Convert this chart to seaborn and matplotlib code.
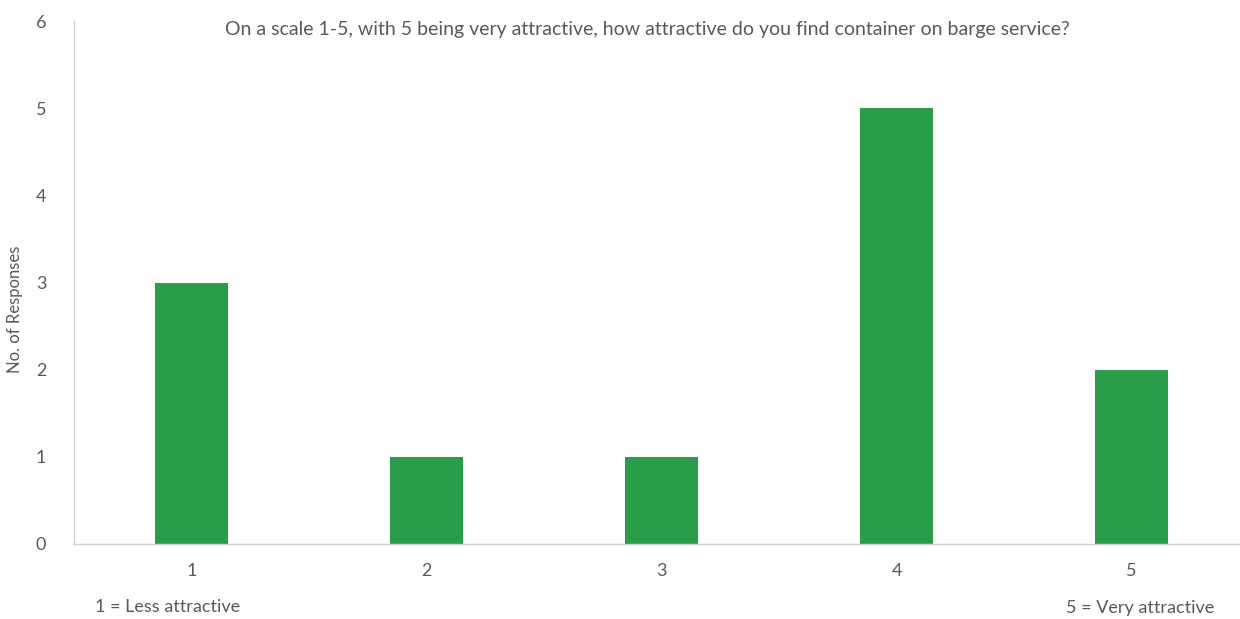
import matplotlib
matplotlib.use("Agg")
import matplotlib.pyplot as plt
import seaborn as sns
import pandas as pd

categories = ["1", "2", "3", "4", "5"]
responses = [3, 1, 1, 5, 2]
y_ticks = [0, 1, 2, 3, 4, 5, 6]
title = "On a scale 1-5, with 5 being very attractive, how attractive do you find container on barge service?"
left_note = "1 = Less attractive"
right_note = "5 = Very attractive"

sns.set_style("white")
plt.rcParams["font.family"] = ["Lato", "DejaVu Sans"]

df = pd.DataFrame({"score": categories, "count": responses})

W, H = 1240, 619
fig = plt.figure(figsize=(W / 100, H / 100), dpi=100)
ax_left, ax_right, ax_top, ax_bottom = 74, 1249, 21, 544
ax = fig.add_axes([ax_left / W, (H - ax_bottom) / H, (ax_right - ax_left) / W, (ax_bottom - ax_top) / H])

green = "#2A9D4A"
sns.barplot(data=df, x="score", y="count", color=green, width=0.31, saturation=1, ax=ax, edgecolor="none")

ax.set_xlim(-0.5, 4.5)
ax.set_ylim(0, 6)
ax.set_yticks(y_ticks)
text_c = "#595959"
ax.tick_params(axis="both", colors=text_c, labelsize=13, length=0)
ax.tick_params(axis="x", pad=14)
ax.tick_params(axis="y", pad=20)
for s in ["top", "right"]:
    ax.spines[s].set_visible(False)
ax.spines["left"].set_color("#D0D0D0")
ax.spines["bottom"].set_color("#D0D0D0")
ax.spines["left"].set_linewidth(1.0)
ax.spines["bottom"].set_linewidth(1.0)
ax.set_xlabel("")
ax.set_ylabel("No. of Responses", color=text_c, fontsize=12)
ax.yaxis.set_label_coords(-51 / (ax_right - ax_left), (ax_bottom - 309) / (ax_bottom - ax_top))

fig.text(647 / W, 1 - 30 / H, title, ha="center", va="center", color=text_c, fontsize=14)
fig.text(168 / W, 1 - 607 / H, left_note, ha="center", va="center", color=text_c, fontsize=13)
fig.text(1140 / W, 1 - 608 / H, right_note, ha="center", va="center", color=text_c, fontsize=13)

fig.savefig("out.png", dpi=100)
